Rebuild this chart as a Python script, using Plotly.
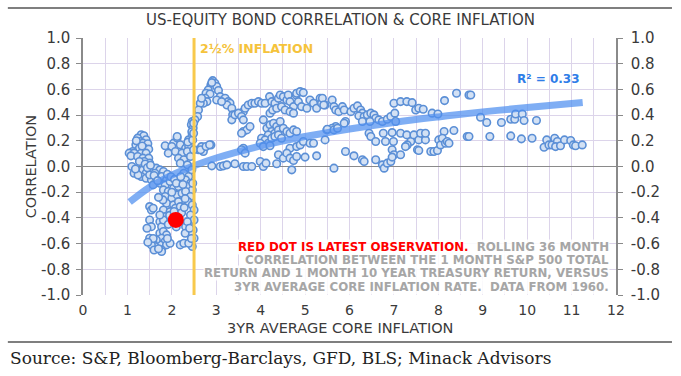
import plotly.graph_objects as go

# ---------------- data ----------------
# Left cluster: core inflation below ~2.5%
infl_low = [1.31, 1.37, 1.23, 1.42, 1.28, 1.35, 1.46, 1.19, 1.27, 1.38, 1.48, 1.12, 1.04, 1.15, 1.31, 1.42,
            1.08, 1.23, 1.35, 1.48, 1.38, 1.27, 1.50,
            1.15, 1.27, 1.35, 1.42, 1.54, 1.65, 1.73, 1.81, 1.31, 1.42, 1.54, 1.65, 1.77, 1.88, 1.58, 1.73,
            1.85, 1.96, 1.50, 1.62, 1.24,
            1.85, 2.04, 2.12, 2.00, 2.19, 2.31, 2.38, 1.92, 2.08, 2.23, 2.35, 2.15, 2.27, 2.42, 2.19, 2.35,
            2.12, 2.38, 2.46, 2.46, 2.44, 2.48, 2.45,
            1.81, 1.92, 2.04, 2.15, 1.85, 2.00, 2.12, 2.23, 1.88, 2.04, 2.15, 1.81, 1.96, 2.08, 2.19, 1.85,
            2.00, 1.73, 1.77, 1.73, 1.81, 1.88, 1.77, 1.85, 1.73, 1.88, 1.77, 1.96, 1.65, 1.58, 1.50, 1.62,
            1.54, 1.81, 1.73,
            2.27, 2.38, 2.31, 2.42, 2.35, 2.46, 2.31, 2.42, 2.36, 2.46, 2.50, 2.42, 2.50, 2.38, 2.48, 2.42,
            2.50, 2.46, 2.19, 2.27, 2.38, 2.31, 2.35,
            1.50, 1.54, 1.58, 1.50, 1.54, 1.77, 1.44, 1.58, 1.46, 1.60, 1.70,
            1.20, 1.33, 1.40, 1.10, 1.18, 1.45, 1.52, 1.60, 1.68, 1.90, 1.98, 2.06, 2.10, 2.25, 2.30,
            1.95, 2.05, 2.22, 2.28, 1.92, 2.10, 2.30, 2.40, 2.44, 1.90, 1.80, 1.70, 2.00, 2.20, 2.36]
corr_low = [0.247, 0.239, 0.221, 0.208, 0.195, 0.182, 0.177, 0.169, 0.143, 0.143, 0.135, 0.117, 0.104, 0.104, 0.104, 0.104,
            0.083, 0.078, 0.065, 0.065, 0.039, 0.039, 0.026,
            -0.052, -0.039, -0.026, -0.052, -0.026, -0.013, -0.026, -0.039, -0.078, -0.091, -0.104, -0.091, -0.078, -0.104, -0.143, -0.130,
            -0.143, -0.117, -0.065, -0.052, -0.066,
            0.161, 0.182, 0.221, 0.156, 0.169, 0.143, 0.156, 0.104, 0.117, 0.104, 0.117, 0.065, 0.052, 0.078, 0.026, 0.013,
            0.234, 0.208, 0.247, 0.350, 0.325, 0.300, 0.270,
            -0.182, -0.195, -0.169, -0.156, -0.234, -0.247, -0.221, -0.208, -0.286, -0.299, -0.273, -0.338, -0.351, -0.325, -0.312, -0.390,
            -0.403, -0.429, -0.468, -0.519, -0.506, -0.532, -0.558, -0.584, -0.610, -0.610, -0.649, -0.597, -0.571, -0.597, -0.558, -0.623,
            -0.610, -0.416, -0.377,
            -0.052, -0.078, -0.104, -0.130, -0.156, -0.182, -0.195, -0.234, -0.273, -0.299, -0.338, -0.377, -0.416, -0.455, -0.494, -0.519,
            -0.558, -0.623, -0.610, -0.597, -0.597, -0.468, -0.429,
            -0.312, -0.338, -0.325, -0.416, -0.468, -0.662, -0.480, -0.560, -0.590, -0.650, -0.640,
            0.200, 0.160, 0.020, 0.000, -0.020, -0.010, 0.010, -0.070, -0.110, -0.060, -0.080, -0.100, -0.130, -0.140, -0.250,
            -0.380, -0.350, -0.360, -0.320, -0.450, -0.470, -0.520, -0.480, -0.560, -0.560, -0.260, -0.240, -0.200, -0.080, 0.190]

# Middle: core inflation ~2.5% to ~5.5%
infl_mid = [2.92, 2.97, 2.88, 2.95, 2.82, 3.01, 3.05, 2.77, 2.86, 2.75, 2.79, 2.71, 2.64, 2.60, 2.58, 2.52, 2.49,
            3.09, 3.16, 3.20, 3.27, 3.31, 3.24, 3.35, 3.37, 3.35, 3.01, 3.12, 2.67, 2.90,
            3.61, 3.65, 3.72, 3.80, 3.87, 3.95, 4.02, 4.10, 4.20, 4.25, 4.32, 4.40, 4.44, 4.51, 4.59, 4.62,
            4.66, 4.74, 4.80, 4.81, 4.89, 4.96, 4.85, 4.92, 5.04, 5.11, 5.19, 5.26, 5.34, 5.37, 5.45,
            4.21, 4.27, 4.36, 4.47, 4.55, 4.66, 4.74, 3.42, 3.50, 3.57, 3.61,
            3.61, 3.69, 3.76, 3.57, 4.06, 4.14, 4.21, 4.29, 4.36, 4.44, 4.25, 4.17, 4.32, 4.40, 4.51, 4.59,
            4.66, 4.74, 4.81, 4.02, 4.10, 4.17, 4.25, 4.32, 4.40, 4.47, 3.99, 4.06, 4.21, 3.61, 3.57, 3.65,
            4.66, 4.81, 4.89, 4.96, 5.11, 5.19, 5.49, 5.45,
            2.60, 2.67, 2.71, 2.88, 2.90, 3.09, 3.16, 3.24, 3.42, 3.61, 3.69, 3.80, 3.99, 4.06, 4.12, 4.36,
            4.40, 4.51, 4.59, 4.66, 4.74, 4.81, 5.00, 5.26, 4.70, 2.49, 2.47, 2.49, 2.45, 2.47, 2.65, 2.77, 2.85]
corr_mid = [0.668, 0.648, 0.635, 0.609, 0.596, 0.622, 0.591, 0.570, 0.565, 0.531, 0.505, 0.492, 0.492, 0.440, 0.389, 0.363, 0.337,
            0.544, 0.518, 0.531, 0.505, 0.492, 0.479, 0.453, 0.402, 0.363, 0.518, 0.505, 0.531, 0.653,
            0.427, 0.453, 0.479, 0.492, 0.492, 0.505, 0.492, 0.492, 0.544, 0.505, 0.492, 0.531, 0.557, 0.544, 0.518, 0.557,
            0.505, 0.466, 0.557, 0.570, 0.583, 0.575, 0.505, 0.466, 0.453, 0.518, 0.492, 0.453, 0.531, 0.492, 0.479,
            0.415, 0.440, 0.453, 0.466, 0.440, 0.427, 0.415, 0.402, 0.415, 0.389, 0.363,
            0.272, 0.285, 0.311, 0.259, 0.363, 0.298, 0.324, 0.337, 0.311, 0.350, 0.272, 0.246, 0.259, 0.285, 0.298, 0.272,
            0.259, 0.285, 0.272, 0.220, 0.207, 0.181, 0.220, 0.233, 0.246, 0.220, 0.181, 0.155, 0.161, 0.142, 0.130, 0.104,
            0.142, 0.155, 0.168, 0.194, 0.181, 0.181, 0.285, 0.207,
            0.130, 0.155, 0.117, 0.168, 0.005, 0.000, 0.005, 0.013, 0.021, 0.000, 0.000, 0.000, 0.039, 0.000, 0.026, 0.021,
            0.091, 0.065, 0.104, 0.065, 0.047, 0.078, 0.073, 0.083, -0.026, 0.130, 0.207, 0.259, -0.026, -0.130, 0.130, 0.156, 0.169]

# High: core inflation above ~5.5%
infl_high = [5.39, 5.42, 5.61, 5.65, 5.69, 5.76, 5.84, 5.88, 6.03, 6.10, 6.18, 6.25, 6.29, 6.21, 6.33, 6.40,
             6.48, 6.55, 6.59, 6.46, 6.29, 6.66, 6.74, 6.85, 6.93, 7.02, 7.04, 7.00, 7.15, 7.29, 7.41, 7.49,
             7.56, 7.66, 7.86, 7.99, 8.14, 8.41, 8.69, 5.91, 5.88, 5.69, 5.61, 5.50, 5.65, 5.73,
             6.44, 6.48, 6.59, 6.76, 6.81, 6.96, 6.99, 7.15, 7.29, 7.38, 7.45, 7.56, 7.60, 7.71, 7.71, 7.30,
             7.26, 6.96, 7.00, 7.15, 7.53, 7.56, 7.83, 7.90, 7.98, 8.01, 8.05, 8.13, 8.09, 8.16, 8.20, 8.24,
             8.35, 8.65, 5.91, 6.10, 6.29, 6.33, 6.59, 6.74, 6.78, 6.85, 6.93, 6.96, 5.65,
             8.73, 8.95, 9.09, 9.42, 9.63, 9.72, 9.74, 9.89, 9.93, 10.21, 8.69, 9.16, 9.63, 9.87, 10.11,
             10.38, 10.44, 10.49, 10.56, 10.62, 10.68, 10.64, 10.75, 10.84, 10.98, 11.04, 11.09, 11.24]
corr_high = [0.531, 0.479, 0.518, 0.466, 0.440, 0.427, 0.466, 0.440, 0.427, 0.453, 0.472, 0.440, 0.415, 0.394, 0.389, 0.402,
             0.415, 0.402, 0.376, 0.350, 0.350, 0.363, 0.350, 0.368, 0.389, 0.415, 0.350, 0.492, 0.505, 0.505, 0.497, 0.440,
             0.453, 0.446, 0.415, 0.409, 0.513, 0.570, 0.557, 0.350, 0.337, 0.311, 0.298, 0.290, 0.285, 0.298,
             0.259, 0.233, 0.194, 0.259, 0.194, 0.264, 0.194, 0.259, 0.246, 0.194, 0.246, 0.207, 0.259, 0.207, 0.259, 0.168,
             0.155, 0.130, 0.091, 0.091, 0.130, 0.124, 0.117, 0.117, 0.124, 0.207, 0.168, 0.272, 0.220, 0.181, 0.194, 0.181,
             0.280, 0.233, 0.117, 0.083, 0.052, 0.039, 0.052, 0.013, -0.013, 0.026, 0.039, 0.073, -0.013,
             0.557, 0.383, 0.342, 0.342, 0.368, 0.368, 0.409, 0.409, 0.358, 0.358, 0.233, 0.233, 0.238, 0.215, 0.220,
             0.150, 0.207, 0.168, 0.168, 0.220, 0.194, 0.155, 0.161, 0.207, 0.202, 0.168, 0.161, 0.168]

# Latest observation (red dot)
latest_infl = [2.09]
latest_corr = [-0.416]

# Logarithmic trend line
trend_x = [1.05, 1.5, 2.0, 2.5, 3.0, 4.0, 5.0, 6.0, 7.0, 8.0, 9.0, 10.0, 11.25]
trend_y = [-0.277, -0.161, -0.067, 0.006, 0.066, 0.160, 0.233, 0.292, 0.343, 0.386, 0.425, 0.459, 0.498]

inflation_marker = [2.5]

x_ticks = list(range(0, 13))
y_ticks = [-1.0, -0.8, -0.6, -0.4, -0.2, 0.0, 0.2, 0.4, 0.6, 0.8, 1.0]
y_tick_labels = ["-1.0", "-0.8", "-0.6", "-0.4", "-0.2", "0.0", "0.2", "0.4", "0.6", "0.8", "1.0"]

note_lines = [
    "<span style='color:#ff0000'>RED DOT IS LATEST OBSERVATION.</span>\u00a0 ROLLING 36 MONTH",
    "CORRELATION BETWEEN THE 1 MONTH S&amp;P 500 TOTAL",
    "RETURN AND 1 MONTH 10 YEAR TREASURY RETURN, VERSUS",
    "3YR AVERAGE CORE INFLATION RATE.\u00a0 DATA FROM 1960.",
]

# ---------------- figure ----------------
infl_all = infl_low + infl_mid + infl_high
corr_all = corr_low + corr_mid + corr_high

FONT = "DejaVu Sans, Verdana, sans-serif"
GRID = "#dcd4ea"
AXIS = "#8a8a8a"
TXT = "#3a3a3a"

fig = go.Figure()

fig.add_trace(go.Scatter(
    x=infl_all, y=corr_all, mode="markers",
    marker=dict(size=7.5, color="#d3e1f4", line=dict(color="#5b8fd6", width=1.6)),
    showlegend=False, hoverinfo="skip"))

fig.add_trace(go.Scatter(
    x=trend_x, y=trend_y, mode="lines",
    line=dict(color="#4f8ff0", width=7, shape="spline"), opacity=0.72,
    showlegend=False, hoverinfo="skip"))

fig.add_trace(go.Scatter(
    x=latest_infl, y=latest_corr, mode="markers", yaxis="y2",
    marker=dict(size=16, color="#ff0000", line=dict(width=0)),
    showlegend=False, hoverinfo="skip"))

# 2.5% inflation vertical line
fig.add_shape(type="line", xref="x", yref="paper",
              x0=inflation_marker[0], x1=inflation_marker[0], y0=0, y1=1,
              line=dict(color="#f8c94c", width=3), layer="above")

# horizontal rules above and below the chart
fig.add_shape(type="line", xref="paper", yref="paper",
              x0=-0.141, x1=1.105, y0=1.117, y1=1.117,
              line=dict(color="#7f7f7f", width=2))
fig.add_shape(type="line", xref="paper", yref="paper",
              x0=-0.141, x1=1.105, y0=-0.183, y1=-0.183,
              line=dict(color="#7f7f7f", width=2))

note_y = [-0.626, -0.728, -0.829, -0.938]
annotations = [
    dict(text="2½% INFLATION", x=inflation_marker[0], y=0.915, xref="x", yref="y",
         xanchor="left", yanchor="middle", xshift=4, showarrow=False,
         font=dict(family=FONT, size=12.5, color="#f5c33b", weight="bold")),
    dict(text="R² = 0.33", x=10.47, y=0.68, xref="x", yref="y",
         xanchor="center", yanchor="middle", showarrow=False,
         font=dict(family=FONT, size=12, color="#2f7de8", weight="bold")),
    dict(text="3YR AVERAGE CORE INFLATION", x=0.483, y=-0.13, xref="paper", yref="paper",
         xanchor="center", yanchor="middle", showarrow=False,
         font=dict(family=FONT, size=14.5, color=TXT)),
    dict(text="CORRELATION", x=-0.098, y=0.5, xref="paper", yref="paper", textangle=-90,
         xanchor="center", yanchor="middle", showarrow=False,
         font=dict(family=FONT, size=14.5, color=TXT)),
    dict(text="Source: S&amp;P, Bloomberg-Barclays, GFD, BLS; Minack Advisors",
         x=-0.141, y=-0.245, xref="paper", yref="paper",
         xanchor="left", yanchor="middle", showarrow=False,
         font=dict(family="DejaVu Serif, Cambria, serif", size=17, color="#222222")),
]
for line, yv in zip(note_lines, note_y):
    annotations.append(dict(
        text=line, x=11.87, y=yv, xref="x", yref="y", xanchor="right", yanchor="middle",
        align="right", showarrow=False, bgcolor="rgba(255,255,255,0.85)", borderpad=0,
        font=dict(family=FONT, size=11.8, color="#a6a6a6", weight="bold")))

fig.update_layout(
    width=681, height=376,
    margin=dict(l=83, r=65, t=38, b=81),
    paper_bgcolor="white", plot_bgcolor="white",
    title=dict(text="US-EQUITY BOND CORRELATION &amp; CORE INFLATION",
               x=0.5, xanchor="center", y=0.948, yanchor="middle",
               font=dict(family=FONT, size=15, color=TXT)),
    xaxis=dict(range=[0, 12], tickvals=x_ticks, ticktext=[str(v) for v in x_ticks],
               showgrid=True, gridcolor=GRID, gridwidth=1,
               minor=dict(dtick=0.5, showgrid=True, gridcolor=GRID, gridwidth=1),
               zeroline=False, showline=False, ticks="", ticklabelstandoff=5,
               tickfont=dict(family=FONT, size=14, color=TXT), fixedrange=True),
    yaxis=dict(range=[-1, 1], tickvals=y_ticks, ticktext=y_tick_labels,
               showgrid=True, gridcolor=GRID, gridwidth=1,
               zeroline=True, zerolinecolor=AXIS, zerolinewidth=1.2,
               showline=True, linecolor=AXIS, linewidth=1.5,
               ticks="outside", ticklen=5, tickcolor=AXIS, ticklabelstandoff=3,
               tickfont=dict(family=FONT, size=15, color=TXT), fixedrange=True),
    yaxis2=dict(range=[-1, 1], overlaying="y", side="right", anchor="x",
                tickvals=y_ticks, ticktext=y_tick_labels, showgrid=False, zeroline=False,
                showline=True, linecolor=AXIS, linewidth=1.5,
                ticks="outside", ticklen=5, tickcolor=AXIS, ticklabelstandoff=5,
                tickfont=dict(family=FONT, size=15, color=TXT), fixedrange=True),
    annotations=annotations,
    showlegend=False,
)

fig.write_html("out.html", config={"displayModeBar": False},
               post_script="document.body.style.margin='0';")
